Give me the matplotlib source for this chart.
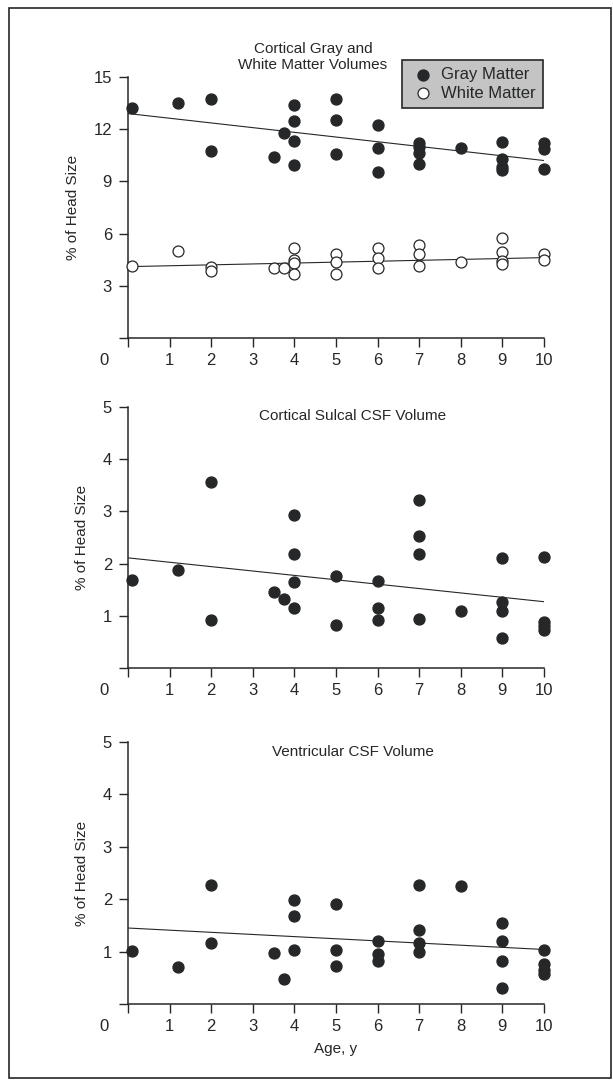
import matplotlib
matplotlib.use("Agg")
import matplotlib.pyplot as plt
from matplotlib.patches import Rectangle

plt.rcParams['font.family'] = ['Liberation Sans', 'DejaVu Sans']

INK = '#252728'

# --- data ---
gray_age = [0.1, 1.2, 2, 2, 3.5, 3.75, 4, 4, 4, 4, 5, 5, 5, 6, 6, 6,
            7, 7, 7, 7, 8, 9, 9, 9, 9, 10, 10, 10]
gray_pct = [13.2, 13.5, 13.75, 10.75, 10.4, 11.8, 13.4, 12.45, 11.35, 9.95,
            13.75, 12.5, 10.6, 12.25, 10.9, 9.55, 11.2, 10.95, 10.65, 10.0,
            10.9, 11.25, 10.3, 9.85, 9.65, 11.2, 10.85, 9.7]
white_age = [0.1, 1.2, 2, 2, 3.5, 3.75, 4, 4, 4, 4, 5, 5, 5, 6, 6, 6,
             7, 7, 7, 8, 9, 9, 9, 9, 10, 10]
white_pct = [4.15, 5.0, 4.1, 3.85, 4.05, 4.05, 5.2, 4.5, 4.3, 3.65,
             4.8, 4.35, 3.65, 5.2, 4.6, 4.05, 5.35, 4.8, 4.15, 4.35,
             5.75, 4.95, 4.45, 4.25, 4.8, 4.5]
gray_fit = [12.9, 10.2]      # trend line value at age 0 and 10
white_fit = [4.1, 4.62]

sulcal_age = [0.1, 1.2, 2, 2, 3.5, 3.75, 4, 4, 4, 4, 5, 5, 6, 6, 6,
              7, 7, 7, 7, 8, 9, 9, 9, 9, 10, 10, 10, 10]
sulcal_pct = [1.69, 1.88, 3.56, 0.91, 1.46, 1.32, 2.93, 2.19, 1.64, 1.15,
              1.77, 0.82, 1.66, 1.14, 0.91, 3.22, 2.52, 2.18, 0.93, 1.10,
              2.10, 1.26, 1.10, 0.58, 2.13, 0.88, 0.80, 0.72]
sulcal_fit = [2.11, 1.27]

vent_age = [0.1, 1.2, 2, 2, 3.5, 3.75, 4, 4, 4, 5, 5, 5, 6, 6, 6,
            7, 7, 7, 7, 8, 9, 9, 9, 9, 10, 10, 10, 10]
vent_pct = [1.01, 0.71, 2.28, 1.16, 0.97, 0.48, 1.98, 1.68, 1.03, 1.91,
            1.04, 0.73, 1.20, 0.95, 0.82, 2.28, 1.42, 1.16, 0.99, 2.25,
            1.55, 1.20, 0.83, 0.31, 1.03, 0.76, 0.65, 0.57]
vent_fit = [1.45, 1.04]

fit_age = [0, 10]
x_ticks = list(range(0, 11))
x_labels = [''] + [str(i) for i in range(1, 11)]

W, H = 613, 1080
fig = plt.figure(figsize=(W / 100, H / 100), dpi=100)
fig.patch.set_facecolor('white')


def fx(x):
    return x / W


def fy(y):
    return 1 - y / H


def make_axes(y_zero, y_top, ymax, yticks, title, title_xy):
    ax = fig.add_axes([fx(128), fy(y_zero), fx(544 - 128), (y_zero - y_top) / H])
    ax.set_xlim(0, 10)
    ax.set_ylim(0, ymax)
    ax.patch.set_alpha(0)
    for s in ['top', 'right']:
        ax.spines[s].set_visible(False)
    for s in ['left', 'bottom']:
        ax.spines[s].set_color(INK)
        ax.spines[s].set_linewidth(1.1)
    ax.set_xticks(x_ticks)
    ax.set_xticklabels(x_labels)
    ax.set_yticks(yticks)
    ax.set_yticklabels([''] + [str(t) for t in yticks[1:]])
    ax.tick_params(direction='out', length=6.5, width=1.0, color=INK,
                   labelcolor=INK, labelsize=12, pad=5)
    ax.tick_params(axis='x', pad=4)
    ax.annotate('0', xy=(0, 0), xycoords='data', xytext=(-17, -10.5),
                textcoords='offset points', ha='center', va='top',
                fontsize=12, color=INK)
    ax.set_ylabel('% of Head Size', fontsize=11, color=INK, labelpad=10)
    fig.text(fx(title_xy[0]), fy(title_xy[1]), title, ha='center', va='center',
             fontsize=11, color=INK, linespacing=1.25)
    return ax


# panel 1
ax1 = make_axes(338, 77, 15, [0, 3, 6, 9, 12, 15],
                'Cortical Gray and\nWhite Matter Volumes', (313, 57))
ax1.plot(fit_age, gray_fit, color=INK, lw=0.8, zorder=2)
ax1.plot(fit_age, white_fit, color=INK, lw=0.8, zorder=2)
ax1.scatter(gray_age, gray_pct, s=62, color=INK, zorder=3, clip_on=False,
            label='Gray Matter')
ax1.scatter(white_age, white_pct, s=62, facecolor='white', edgecolor=INK,
            linewidth=0.9, zorder=3, clip_on=False, label='White Matter')
leg = ax1.legend(loc='upper left', bbox_to_anchor=(fx(402), fy(60)),
                 bbox_transform=fig.transFigure, frameon=True, fancybox=False,
                 borderaxespad=0, fontsize=12, handletextpad=0.3,
                 handlelength=1.6, borderpad=0.45, labelspacing=0.2,
                 scatterpoints=1)
leg.get_frame().set_facecolor('#c4c4c4')
leg.get_frame().set_edgecolor(INK)
leg.get_frame().set_linewidth(1.2)
leg.get_frame().set_alpha(1)
for t in leg.get_texts():
    t.set_color(INK)

# panel 2
ax2 = make_axes(668, 407, 5, [0, 1, 2, 3, 4, 5],
                'Cortical Sulcal CSF Volume', (353, 416))
ax2.plot(fit_age, sulcal_fit, color=INK, lw=0.8, zorder=2)
ax2.scatter(sulcal_age, sulcal_pct, s=62, color=INK, zorder=3, clip_on=False)

# panel 3
ax3 = make_axes(1004, 742, 5, [0, 1, 2, 3, 4, 5],
                'Ventricular CSF Volume', (353, 752))
ax3.plot(fit_age, vent_fit, color=INK, lw=0.8, zorder=2)
ax3.scatter(vent_age, vent_pct, s=62, color=INK, zorder=3, clip_on=False)
ax3.set_xlabel('Age, y', fontsize=11, color=INK, labelpad=6)

# outer frame of the figure
fig.add_artist(Rectangle((fx(9), fy(1078)), fx(611 - 9), (1078 - 8) / H,
                         transform=fig.transFigure, fill=False,
                         edgecolor=INK, linewidth=1.2))

fig.savefig('out.png', dpi=100)
